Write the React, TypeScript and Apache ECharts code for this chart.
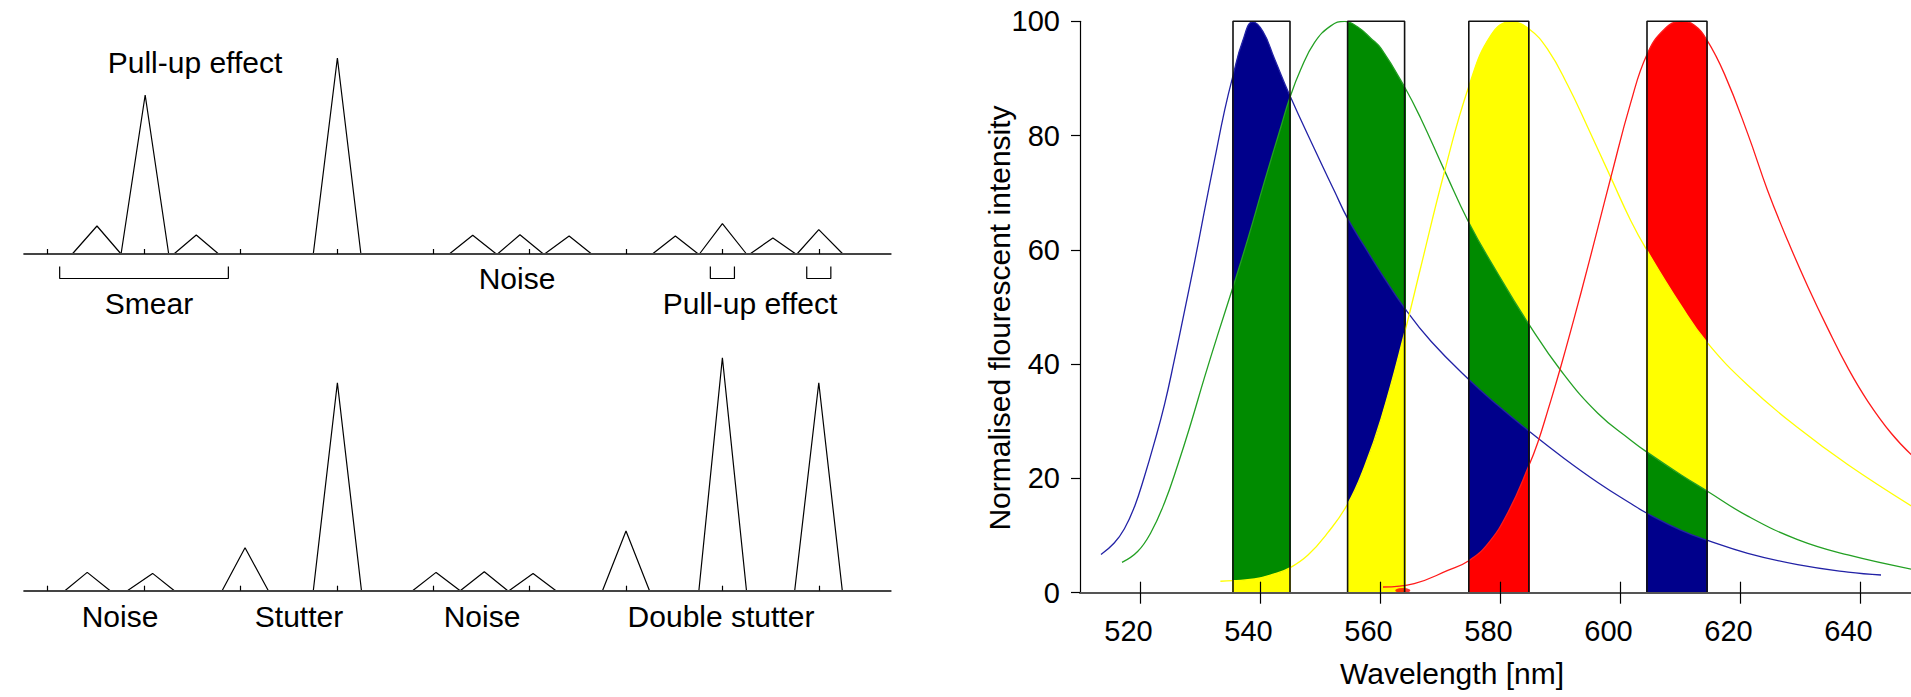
import React, { useEffect, useRef } from 'react';
import * as echarts from 'echarts';

// ---------- Left panel data (positions in peak-slot units, heights in arbitrary units) ----------
const slotTicks = [0, 1, 2, 3, 4, 5, 6, 7, 8];
// [start, apex, end, height]
const topPeaks: number[][] = [
  [0.256, 0.512, 0.762, 28],
  [0.762, 1.012, 1.256, 159],
  [1.31, 1.542, 1.774, 19],
  [2.756, 3.006, 3.25, 196],
  [4.167, 4.41, 4.655, 18.7],
  [4.667, 4.9, 5.143, 19.3],
  [5.155, 5.41, 5.643, 18],
  [6.274, 6.512, 6.75, 18],
  [6.762, 7.0, 7.25, 30.3],
  [7.286, 7.524, 7.762, 16],
  [7.774, 8.0, 8.25, 24.3],
];
const bottomPeaks: number[][] = [
  [0.179, 0.411, 0.649, 18.3],
  [0.827, 1.089, 1.315, 17.3],
  [1.81, 2.048, 2.29, 43],
  [2.756, 3.006, 3.256, 208],
  [3.786, 4.03, 4.28, 18.3],
  [4.28, 4.53, 4.774, 19],
  [4.786, 5.036, 5.274, 17.3],
  [5.756, 6.0, 6.244, 59.7],
  [6.756, 7.0, 7.25, 233],
  [7.75, 8.0, 8.244, 208],
];
const topBrackets: number[][] = [
  [0.125, 1.875],
  [6.875, 7.125],
  [7.875, 8.125],
];
const topAnnotations = ['Pull-up effect', 'Smear', 'Noise', 'Pull-up effect'];
const bottomAnnotations = ['Noise', 'Stutter', 'Noise', 'Double stutter'];

// ---------- Right panel data ----------
const wavelengthTicks = [520, 540, 560, 580, 600, 620, 640];
const blueSpectrum: number[][] = [
  [513.5, 6.7], [515.7, 8.7], [517.4, 11.2], [519.1, 15.1], [520.7, 20.2], [522.4, 26.3],
  [524.1, 33.0], [525.7, 40.6], [527.4, 49.2], [529.1, 57.9], [530.7, 66.6], [532.4, 75.6],
  [534.1, 84.4], [535.5, 90.5], [537.1, 96.5], [538.8, 99.9], [540.5, 98.2], [542.4, 93.5],
  [544.9, 87.2], [549.1, 77.6], [552.4, 70.3], [554.6, 65.5], [557.4, 60.6], [560.2, 55.9],
  [564.1, 49.8], [568.5, 44.0], [574.8, 37.3], [579.6, 32.8], [584.8, 28.3], [590.7, 23.5],
  [596.3, 19.3], [601.8, 15.6], [604.5, 13.9], [610.2, 10.9], [614.5, 9.2], [621.3, 6.9],
  [629.6, 4.9], [638, 3.6], [643.5, 3.1],
];
const greenSpectrum: number[][] = [
  [517, 5.3], [519.6, 7.2], [521.8, 10.5], [524.1, 15.8], [526.3, 22.4], [528.5, 29.7],
  [530.7, 37.5], [533, 45.3], [535.5, 53.5], [538, 62], [540.7, 71.8], [543.5, 81.6],
  [544.9, 86.4], [546.8, 91.6], [549.1, 96.3], [551.8, 99.2], [554.1, 100], [556.3, 99],
  [558.5, 97], [560.2, 95.2], [564.1, 88.5], [566.8, 83], [570.7, 74], [574.8, 64.8],
  [579.6, 55.9], [584.8, 47], [590.2, 38.8], [596.3, 31.4], [601.8, 26.7], [604.5, 24.6],
  [610.2, 20.6], [614.5, 17.8], [621.3, 13.4], [629.6, 9.3], [638, 6.6], [648.7, 4.1],
];
const yellowSpectrum: number[][] = [
  [533.4, 2.0], [535.5, 2.1], [539.1, 2.4], [542.4, 3.3], [544.9, 4.3], [548, 6.6],
  [551.3, 10.5], [554.6, 15.5], [557.4, 22], [560.2, 30.5], [564.1, 45.5], [566.8, 57],
  [570.7, 73.5], [574.8, 88.6], [578.5, 97.6], [581.8, 99.9], [584.8, 98.7], [588, 95],
  [591.3, 88.8], [594.6, 81.5], [598.5, 72.6], [601.8, 65.1], [604.5, 59.9], [610.2, 50.2],
  [614.5, 43.8], [621.3, 36.3], [629.6, 28.9], [638, 22.4], [648.7, 15.1],
];
const redSpectrum: number[][] = [
  [560.5, 1.0], [565.7, 1.6], [571.3, 3.9], [574.8, 5.6], [578, 8.6], [581.3, 14.0],
  [584.8, 22.2], [586.3, 26.3], [588, 32], [590.2, 39.8], [593.5, 52.5], [596.3, 63.8],
  [598.5, 72.8], [601.8, 85.8], [604.5, 94.2], [607.4, 98.6], [610.2, 100], [612.4, 99.3],
  [614.5, 96.7], [617.4, 90.8], [621.3, 80.3], [624.6, 70.4], [628, 61.5], [631.3, 53.6],
  [634.6, 46.3], [638, 39.3], [641.3, 33.5], [645.2, 27.9], [648.7, 24],
];
const redSpeck: number[][] = [[563.8, 0.4]];
const filterBands: number[][] = [
  [535.5, 545],
  [554.6, 564.1],
  [574.8, 584.8],
  [604.5, 614.5],
];
// paint order inside each filter band (first is painted first / lowest)
const bandFillOrder: string[][] = [
  ['blue', 'green', 'yellow'],
  ['green', 'blue', 'yellow'],
  ['yellow', 'green', 'blue', 'red'],
  ['red', 'yellow', 'green', 'blue'],
];

// ---------- Styles / layout ----------
const FONT = "'Liberation Sans', Arial, sans-serif";
const FS = 30;
const TICK_FS = 29;
const spectra: Record<string, number[][]> = {
  blue: blueSpectrum,
  green: greenSpectrum,
  yellow: yellowSpectrum,
  red: redSpectrum,
};
const lineColors: Record<string, string> = {
  blue: '#2222a6',
  green: '#23a023',
  yellow: '#ffff00',
  red: '#ff1a1a',
};
const fillColors: Record<string, string> = {
  blue: '#00008b',
  green: '#008b00',
  yellow: '#ffff00',
  red: '#ff0000',
};
const SMOOTH = 0.45;
const X_MIN = 510;
const X_MAX = 648.5;
const MAIN = { left: 1080, top: 21.3, width: 831, height: 571.4 };
const LEFT = { left: 24.1, width: 866.6, slotMin: -0.244, slotMax: 8.746 };
const BR_TOP = 12.5;
const BR_BOT = 24.5;
const topTextPos = [
  [195, 62],
  [149, 303],
  [517, 278],
  [750, 303],
];
const bottomTextPos = [
  [120, 616.5],
  [299, 616.5],
  [482, 616.5],
  [721, 616.5],
];

function buildOption() {
  const grids: any[] = [
    { left: LEFT.left, width: LEFT.width, top: 30, height: 284 }, // baseline at 254
    { left: LEFT.left, width: LEFT.width, top: 330.7, height: 320 }, // baseline at 590.7
    { left: MAIN.left, width: MAIN.width, top: MAIN.top, height: MAIN.height },
  ];
  filterBands.forEach(([lo, hi]) => {
    grids.push({
      left: MAIN.left + ((lo - X_MIN) / (X_MAX - X_MIN)) * MAIN.width,
      width: ((hi - lo) / (X_MAX - X_MIN)) * MAIN.width,
      top: MAIN.top,
      height: MAIN.height,
    });
  });
  grids.forEach((g) => {
    g.outerBoundsMode = 'none';
    g.containLabel = false;
    g.show = false;
  });

  const leftX = (gridIndex: number) => ({
    type: 'value',
    gridIndex,
    min: LEFT.slotMin,
    max: LEFT.slotMax,
    axisLine: { show: true, onZero: true, lineStyle: { color: '#444', width: 2 } },
    axisTick: { show: true, inside: true, length: 5, customValues: slotTicks, lineStyle: { color: '#000', width: 1.2 } },
    axisLabel: { show: false },
    splitLine: { show: false },
    z: 5,
  });

  const xAxes: any[] = [
    leftX(0),
    leftX(1),
    {
      type: 'value',
      gridIndex: 2,
      min: X_MIN,
      max: X_MAX,
      axisLine: { show: true, onZero: false, lineStyle: { color: '#555', width: 2 } },
      axisTick: { show: true, inside: false, length: 11, customValues: wavelengthTicks, lineStyle: { color: '#000', width: 1.2 } },
      axisLabel: {
        show: true,
        customValues: wavelengthTicks,
        margin: 24,
        padding: [0, 23, 0, 0],
        fontSize: TICK_FS,
        fontFamily: FONT,
        color: '#000',
      },
      splitLine: { show: false },
      z: 10,
    },
    {
      type: 'value',
      gridIndex: 2,
      position: 'bottom',
      min: X_MIN,
      max: X_MAX,
      axisLine: { show: false, onZero: false },
      axisTick: { show: true, inside: true, length: 11, customValues: wavelengthTicks, lineStyle: { color: '#000', width: 1.2 } },
      axisLabel: { show: false },
      splitLine: { show: false },
      z: 10,
    },
  ];
  const yAxes: any[] = [
    { type: 'value', gridIndex: 0, min: -60, max: 224, show: false },
    { type: 'value', gridIndex: 1, min: -60, max: 260, show: false },
    {
      type: 'value',
      gridIndex: 2,
      min: 0,
      max: 100,
      interval: 20,
      axisLine: { show: true, lineStyle: { color: '#000', width: 1.2 } },
      axisTick: { show: true, inside: false, length: 9, lineStyle: { color: '#000', width: 1.2 } },
      axisLabel: { show: true, margin: 20, fontSize: TICK_FS, fontFamily: FONT, color: '#000' },
      splitLine: { show: false },
      z: 10,
    },
  ];
  filterBands.forEach(([lo, hi], i) => {
    xAxes.push({ type: 'value', gridIndex: 3 + i, min: lo, max: hi, show: false });
    yAxes.push({ type: 'value', gridIndex: 3 + i, min: 0, max: 100, show: false });
  });

  const series: any[] = [];
  const peakSeries = (peaks: number[][], idx: number) =>
    peaks.forEach((p) =>
      series.push({
        type: 'line',
        xAxisIndex: idx,
        yAxisIndex: idx,
        data: [[p[0], 0], [p[1], p[3]], [p[2], 0]],
        symbol: 'none',
        clip: false,
        silent: true,
        lineStyle: { color: '#000', width: 1.2 },
        z: 3,
      })
    );
  peakSeries(topPeaks, 0);
  peakSeries(bottomPeaks, 1);
  topBrackets.forEach(([lo, hi]) =>
    series.push({
      type: 'line',
      xAxisIndex: 0,
      yAxisIndex: 0,
      data: [[lo, -BR_TOP], [lo, -BR_BOT], [hi, -BR_BOT], [hi, -BR_TOP]],
      symbol: 'none',
      clip: false,
      silent: true,
      lineStyle: { color: '#000', width: 1.2 },
      z: 3,
    })
  );

  // filled portions inside each filter band
  filterBands.forEach((_, i) => {
    bandFillOrder[i].forEach((name) => {
      series.push({
        type: 'line',
        xAxisIndex: 4 + i,
        yAxisIndex: 3 + i,
        data: spectra[name],
        smooth: SMOOTH,
        symbol: 'none',
        clip: true,
        silent: true,
        lineStyle: { width: 0.01, opacity: 0 },
        areaStyle: { color: fillColors[name], opacity: 1, origin: 'start' },
        z: 2,
      });
    });
  });

  // spectrum lines
  ['blue', 'green', 'yellow', 'red'].forEach((name) =>
    series.push({
      type: 'line',
      xAxisIndex: 2,
      yAxisIndex: 2,
      data: spectra[name],
      smooth: SMOOTH,
      symbol: 'none',
      silent: true,
      lineStyle: { color: lineColors[name], width: 1.3 },
      z: 4,
    })
  );
  series.push({
    type: 'scatter',
    xAxisIndex: 2,
    yAxisIndex: 2,
    data: redSpeck,
    symbol: 'circle',
    symbolSize: [15, 5],
    itemStyle: { color: '#ff0000' },
    silent: true,
    z: 4,
  });
  // filter band outlines
  filterBands.forEach(([lo, hi]) =>
    series.push({
      type: 'line',
      xAxisIndex: 2,
      yAxisIndex: 2,
      data: [[lo, 0], [lo, 100], [hi, 100], [hi, 0]],
      symbol: 'none',
      clip: false,
      silent: true,
      lineStyle: { color: '#111', width: 1.6 },
      z: 6,
    })
  );

  const textStyle = { fontSize: FS, fontFamily: FONT, fill: '#000', align: 'center', verticalAlign: 'middle' };
  const graphic: any[] = [];
  topAnnotations.forEach((t, i) =>
    graphic.push({ type: 'text', x: topTextPos[i][0], y: topTextPos[i][1], style: { ...textStyle, text: t }, z: 10 })
  );
  bottomAnnotations.forEach((t, i) =>
    graphic.push({ type: 'text', x: bottomTextPos[i][0], y: bottomTextPos[i][1], style: { ...textStyle, text: t }, z: 10 })
  );
  graphic.push({ type: 'text', x: 1452, y: 673, style: { ...textStyle, text: 'Wavelength [nm]' }, z: 10 });
  graphic.push({
    type: 'text',
    x: 999,
    y: 318,
    rotation: Math.PI / 2,
    style: { ...textStyle, text: 'Normalised flourescent intensity' },
    z: 10,
  });

  return {
    animation: false,
    backgroundColor: '#fff',
    grid: grids,
    xAxis: xAxes,
    yAxis: yAxes,
    series,
    graphic,
  };
}

export default function App() {
  const ref = useRef<HTMLDivElement>(null);
  useEffect(() => {
    if (!ref.current) return;
    const chart = echarts.init(ref.current, undefined, { renderer: 'svg' });
    chart.setOption(buildOption() as any);
    return () => chart.dispose();
  }, []);
  return (
    <div
      ref={ref}
      style={{ position: 'absolute', left: 0, top: 0, width: 1911, height: 697 }}
    />
  );
}
